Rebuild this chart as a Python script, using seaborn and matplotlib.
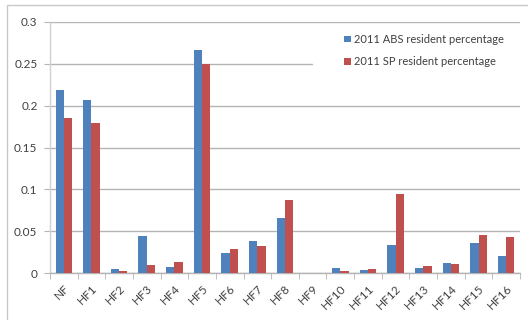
import matplotlib
matplotlib.use("Agg")
import matplotlib.pyplot as plt
from matplotlib.patches import Rectangle
from matplotlib.ticker import FixedLocator
import numpy as np
import pandas as pd
import seaborn as sns

categories = ["NF", "HF1", "HF2", "HF3", "HF4", "HF5", "HF6", "HF7", "HF8",
              "HF9", "HF10", "HF11", "HF12", "HF13", "HF14", "HF15", "HF16"]
abs_share = [0.219, 0.207, 0.005, 0.044, 0.007, 0.267, 0.024, 0.038, 0.066,
             0.0, 0.006, 0.003, 0.033, 0.006, 0.012, 0.036, 0.020]
sp_share = [0.185, 0.179, 0.0025, 0.010, 0.0135, 0.250, 0.029, 0.032, 0.087,
            0.0, 0.0025, 0.005, 0.095, 0.008, 0.011, 0.045, 0.043]
series_names = ["2011 ABS resident percentage", "2011 SP resident percentage"]
y_ticks = [0, 0.05, 0.1, 0.15, 0.2, 0.25, 0.3]
y_tick_labels = ["0", "0.05", "0.1", "0.15", "0.2", "0.25", "0.3"]

df = pd.DataFrame({
    "category": categories * 2,
    "share": abs_share + sp_share,
    "series": [series_names[0]] * len(categories) + [series_names[1]] * len(categories),
})

sns.set_style("white")
plt.rcParams["font.family"] = ["Lato", "DejaVu Sans"]

fig = plt.figure(figsize=(5.28, 3.2), dpi=100)
# outer chart frame (left and top edges)
fig.patches.append(Rectangle((7 / 528, -0.1), 1.2, 1 - 5 / 320 + 0.1,
                             transform=fig.transFigure, fill=False,
                             edgecolor="#c8c8c8", linewidth=1.0))
ax = fig.add_axes([50 / 528, 1 - 273 / 320, 470 / 528, 251 / 320])

palette = {series_names[0]: "#4F81BD", series_names[1]: "#C0504D"}
sns.barplot(data=df, x="category", y="share", hue="series", order=categories,
            hue_order=series_names, palette=palette, width=0.6, saturation=1,
            dodge=True, gap=0, linewidth=0, ax=ax, zorder=3, legend=False)

ax.set_xlim(-0.5, len(categories) - 0.5)
ax.set_ylim(0, 0.3)
ax.set_yticks(y_ticks)
ax.set_yticklabels(y_tick_labels)
ax.yaxis.grid(True, color="#b4b4b4", linewidth=1.0, zorder=0)
ax.set_axisbelow(True)
ax.set_xlabel("")
ax.set_ylabel("")

for side in ["top", "right"]:
    ax.spines[side].set_visible(False)
ax.spines["left"].set_color("#d0d0d0")
ax.spines["bottom"].set_color("#b4b4b4")
ax.spines["left"].set_linewidth(1.0)
ax.spines["bottom"].set_linewidth(1.0)

ax.tick_params(axis="y", which="major", length=4, color="#b4b4b4",
               labelsize=8.5, labelcolor="#404040", pad=5, left=True)
ax.tick_params(axis="x", which="major", length=0, labelsize=8.5,
               labelcolor="#404040", pad=7)
ax.xaxis.set_minor_locator(FixedLocator(np.arange(-0.5, len(categories), 1.0)))
ax.tick_params(axis="x", which="minor", length=4, color="#b4b4b4", bottom=True)
for lbl in ax.get_xticklabels():
    lbl.set_rotation(45)
    lbl.set_ha("right")
    lbl.set_rotation_mode("anchor")

# white legend area over the grid
ax.add_patch(Rectangle(((313 - 50) / 470, 0.7), 1 - (313 - 50) / 470, 0.28,
                       transform=ax.transAxes, facecolor="white",
                       edgecolor="none", zorder=2))
handles = [Rectangle((0, 0), 1, 1, facecolor=palette[s], edgecolor="none")
           for s in series_names]
leg = ax.legend(handles, series_names, loc="upper left",
                bbox_to_anchor=((340 - 50) / 470, 0.97), frameon=False,
                fontsize=8, handlelength=0.55, handleheight=0.55,
                handletextpad=0.3, labelspacing=1.0, borderaxespad=0)
for t in leg.get_texts():
    t.set_color("#404040")

fig.savefig("out.png", dpi=100)
